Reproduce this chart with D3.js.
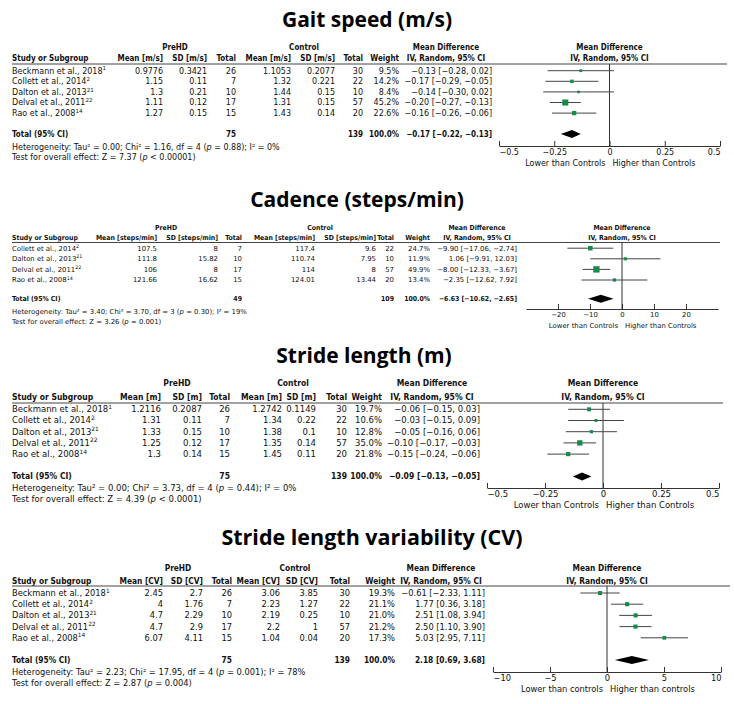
<!DOCTYPE html>
<html>
<head>
<meta charset="utf-8">
<script src="https://cdn.jsdelivr.net/npm/d3@7"></script>
<style>
  body { margin: 0; background: #fff; }
  svg { display: block; }
</style>
</head>
<body>
<div id="chart"></div>
<script>
// study labels + reference superscripts
const studyNames = ['Beckmann et al., 2018', 'Collett et al., 2014', 'Dalton et al., 2013', 'Delval et al., 2011', 'Rao et al., 2008'];
const studyRefs = ['1', '2', '21', '22', '14'];

// Gait speed (m/s)
const gaitPreMean = [0.9776, 1.15, 1.3, 1.11, 1.27];
const gaitPreSD = [0.3421, 0.11, 0.21, 0.12, 0.15];
const gaitPreN = [26, 7, 10, 17, 15];
const gaitCtlMean = [1.1053, 1.32, 1.44, 1.31, 1.43];
const gaitCtlSD = [0.2077, 0.221, 0.15, 0.15, 0.14];
const gaitCtlN = [30, 22, 10, 57, 20];
const gaitWeight = [9.5, 14.2, 8.4, 45.2, 22.6];
const gaitMD = [-0.13, -0.17, -0.14, -0.20, -0.16];
const gaitLo = [-0.28, -0.29, -0.30, -0.27, -0.26];
const gaitHi = [0.02, -0.05, 0.02, -0.13, -0.06];
const gaitTotal = [75, 139, 100.0, -0.17, -0.22, -0.13];   // nPre, nCtl, weight, md, lo, hi
const gaitHet = ['0.00', '1.16', '4', '= 0.88', '0%'];     // tau2, chi2, df, p, I2
const gaitTest = ['7.37', '< 0.00001'];

// Cadence (steps/min) - no Beckmann
const cadPreMean = [107.5, 111.8, 106, 121.66];
const cadPreSD = [8, 15.82, 8, 16.62];
const cadPreN = [7, 10, 17, 15];
const cadCtlMean = [117.4, 110.74, 114, 124.01];
const cadCtlSD = [9.6, 7.95, 8, 13.44];
const cadCtlN = [22, 10, 57, 20];
const cadWeight = [24.7, 11.9, 49.9, 13.4];
const cadMD = [-9.90, 1.06, -8.00, -2.35];
const cadLo = [-17.06, -9.91, -12.33, -12.62];
const cadHi = [-2.74, 12.03, -3.67, 7.92];
const cadTotal = [49, 109, 100.0, -6.63, -10.62, -2.65];
const cadHet = ['3.40', '3.70', '3', '= 0.30', '19%'];
const cadTest = ['3.26', '= 0.001'];

// Stride length (m)
const strPreMean = [1.2116, 1.31, 1.33, 1.25, 1.3];
const strPreSD = [0.2087, 0.11, 0.15, 0.12, 0.14];
const strPreN = [26, 7, 10, 17, 15];
const strCtlMean = [1.2742, 1.34, 1.38, 1.35, 1.45];
const strCtlSD = [0.1149, 0.22, 0.1, 0.14, 0.11];
const strCtlN = [30, 22, 10, 57, 20];
const strWeight = [19.7, 10.6, 12.8, 35.0, 21.8];
const strMD = [-0.06, -0.03, -0.05, -0.10, -0.15];
const strLo = [-0.15, -0.15, -0.16, -0.17, -0.24];
const strHi = [0.03, 0.09, 0.06, -0.03, -0.06];
const strTotal = [75, 139, 100.0, -0.09, -0.13, -0.05];
const strHet = ['0.00', '3.73', '4', '= 0.44', '0%'];
const strTest = ['4.39', '< 0.0001'];

// Stride length variability (CV)
const cvPreMean = [2.45, 4, 4.7, 4.7, 6.07];
const cvPreSD = [2.7, 1.76, 2.29, 2.9, 4.11];
const cvPreN = [26, 7, 10, 17, 15];
const cvCtlMean = [3.06, 2.23, 2.19, 2.2, 1.04];
const cvCtlSD = [3.85, 1.27, 0.25, 1, 0.04];
const cvCtlN = [30, 22, 10, 57, 20];
const cvWeight = [19.3, 21.1, 21.0, 21.2, 17.3];
const cvMD = [-0.61, 1.77, 2.51, 2.50, 5.03];
const cvLo = [-2.33, 0.36, 1.08, 1.10, 2.95];
const cvHi = [1.11, 3.18, 3.94, 3.90, 7.11];
const cvTotal = [75, 139, 100.0, 2.18, 0.69, 3.68];
const cvHet = ['2.23', '17.95', '4', '= 0.001', '78%'];
const cvTest = ['2.87', '= 0.004'];

const width = 734, height = 704;
const regFont = "'DejaVu Sans', Verdana, sans-serif";
const boldFont = "'DejaVu Sans Condensed', 'DejaVu Sans', sans-serif";
const titleFont = "'Open Sans', 'Noto Sans', sans-serif";
const green = '#168a4a';

const svg = d3.select('#chart').append('svg')
  .attr('width', width)
  .attr('height', height);

const fmt2 = d3.format('.2f');
const fmtW = w => w.toFixed(1) + '%';
const ciText = (m, lo, hi) => `${fmt2(m)} [${fmt2(lo)}, ${fmt2(hi)}]`;

// panel setup: data + layout
const panels = [
  {
    title: 'Gait speed (m/s)', unit: 'm/s', idx: [0, 1, 2, 3, 4],
    preMean: gaitPreMean, preSD: gaitPreSD, preN: gaitPreN,
    ctlMean: gaitCtlMean, ctlSD: gaitCtlSD, ctlN: gaitCtlN,
    weight: gaitWeight, md: gaitMD, lo: gaitLo, hi: gaitHi,
    total: gaitTotal, het: gaitHet, test: gaitTest,
    domain: [-0.5, 0.5], ticks: [-0.5, -0.25, 0, 0.25, 0.5],
    lower: 'Lower than Controls', higher: 'Higher than Controls',
    tx: 367, ty: 27, tfs: 21, fs: 8, gy: 47, hy: 58, ly: 64, r0: 70.7, rStep: 10.6,
    totY: 134, hetY: 147, testY: 157.5,
    cols: [163, 207, 236, 291, 335, 363, 399, 492], preX: 175, ctlX: 304, mdHX: 446,
    range: [499, 720], axisY: 146, lineEnd: 727
  },
  {
    title: 'Cadence (steps/min)', unit: 'steps/min', idx: [1, 2, 3, 4],
    preMean: cadPreMean, preSD: cadPreSD, preN: cadPreN,
    ctlMean: cadCtlMean, ctlSD: cadCtlSD, ctlN: cadCtlN,
    weight: cadWeight, md: cadMD, lo: cadLo, hi: cadHi,
    total: cadTotal, het: cadHet, test: cadTest,
    domain: [-30, 30], ticks: [-20, -10, 0, 10, 20],
    lower: 'Lower than Controls', higher: 'Higher than Controls',
    tx: 357, ty: 207, tfs: 21, fs: 6.9, gy: 228, hy: 238, ly: 242.5, r0: 248.2, rStep: 10.6,
    totY: 298.7, hetY: 311.5, testY: 321.5,
    cols: [157, 218, 242, 315, 376, 394, 430, 517], preX: 166, ctlX: 320, mdHX: 477,
    range: [526, 718], axisY: 309, lineEnd: 720
  },
  {
    title: 'Stride length (m)', unit: 'm', idx: [0, 1, 2, 3, 4],
    preMean: strPreMean, preSD: strPreSD, preN: strPreN,
    ctlMean: strCtlMean, ctlSD: strCtlSD, ctlN: strCtlN,
    weight: strWeight, md: strMD, lo: strLo, hi: strHi,
    total: strTotal, het: strHet, test: strTest,
    domain: [-0.5, 0.5], ticks: [-0.5, -0.25, 0, 0.25, 0.5],
    lower: 'Lower than Controls', higher: 'Higher than Controls',
    tx: 364, ty: 363, tfs: 21, fs: 8.5, gy: 383, hy: 397, ly: 403, r0: 409.3, rStep: 11.2,
    totY: 476.5, hetY: 488, testY: 499,
    cols: [161, 202, 230, 282, 316, 347, 382, 480], preX: 177, ctlX: 293, mdHX: 432,
    range: [487, 719], axisY: 488, lineEnd: 723
  },
  {
    title: 'Stride length variability (CV)', unit: 'CV', idx: [0, 1, 2, 3, 4],
    preMean: cvPreMean, preSD: cvPreSD, preN: cvPreN,
    ctlMean: cvCtlMean, ctlSD: cvCtlSD, ctlN: cvCtlN,
    weight: cvWeight, md: cvMD, lo: cvLo, hi: cvHi,
    total: cvTotal, het: cvHet, test: cvTest,
    domain: [-10, 10], ticks: [-10, -5, 0, 5, 10],
    lower: 'Lower than controls', higher: 'Higher than controls',
    tx: 372, ty: 545, tfs: 21.5, fs: 8.3, gy: 568, hy: 581, ly: 586, r0: 593, rStep: 11.2,
    totY: 660, hetY: 672, testY: 683.5,
    cols: [163, 203, 232, 280, 318, 350, 395, 485], preX: 178, ctlX: 295, mdHX: 441,
    range: [493, 721], axisY: 672, lineEnd: 730
  }
];

// square side ~ sqrt(weight)
const boxSize = d3.scaleSqrt().domain([0, 100]).range([0, 9]);

function txt(g, x, y, s, p, opts = {}) {
  return g.append('text')
    .attr('x', x).attr('y', y).attr('dy', '0.35em')
    .attr('text-anchor', opts.anchor || 'end')
    .attr('font-family', opts.bold ? boldFont : regFont)
    .attr('font-weight', opts.bold ? 'bold' : 'normal')
    .attr('font-size', p.fs)
    .attr('fill', '#111')
    .text(s);
}

function drawPanel(p) {
  const g = svg.append('g');
  const c = p.cols;
  const n = p.md.length;

  // title
  g.append('text')
    .attr('x', p.tx).attr('y', p.ty)
    .attr('text-anchor', 'middle')
    .attr('font-family', titleFont)
    .attr('font-weight', 700)
    .attr('font-size', p.tfs)
    .attr('fill', '#000')
    .text(p.title);

  const x = d3.scaleLinear().domain(p.domain).range(p.range);
  const y = d3.scaleLinear().domain([0, n - 1]).range([p.r0, p.r0 + (n - 1) * p.rStep]);
  const x0 = x(0);

  // headers
  const B = { bold: true };
  txt(g, p.preX, p.gy, 'PreHD', p, { bold: true, anchor: 'middle' });
  txt(g, p.ctlX, p.gy, 'Control', p, { bold: true, anchor: 'middle' });
  txt(g, p.mdHX, p.gy, 'Mean Difference', p, { bold: true, anchor: 'middle' });
  txt(g, x0, p.gy, 'Mean Difference', p, { bold: true, anchor: 'middle' });
  txt(g, 12, p.hy, 'Study or Subgroup', p, { bold: true, anchor: 'start' });
  const heads = [`Mean [${p.unit}]`, `SD [${p.unit}]`, 'Total', `Mean [${p.unit}]`, `SD [${p.unit}]`, 'Total', 'Weight'];
  heads.forEach((h, i) => txt(g, c[i], p.hy, h, p, B));
  txt(g, p.mdHX, p.hy, 'IV, Random, 95% CI', p, { bold: true, anchor: 'middle' });
  txt(g, x0, p.hy, 'IV, Random, 95% CI', p, { bold: true, anchor: 'middle' });

  g.append('line')
    .attr('x1', 12).attr('x2', p.lineEnd)
    .attr('y1', p.ly).attr('y2', p.ly)
    .attr('stroke', '#444').attr('stroke-width', 1);

  // study rows
  for (let i = 0; i < n; i++) {
    const yy = y(i);
    const k = p.idx[i];
    const t = txt(g, 12, yy, null, p, { anchor: 'start' });
    t.append('tspan').text(studyNames[k]);
    t.append('tspan').attr('dy', -p.fs * 0.4).attr('font-size', p.fs * 0.7).text(studyRefs[k]);
    const cells = [p.preMean[i], p.preSD[i], p.preN[i], p.ctlMean[i], p.ctlSD[i], p.ctlN[i]];
    cells.forEach((v, j) => txt(g, c[j], yy, String(v), p));
    txt(g, c[6], yy, fmtW(p.weight[i]), p);
    txt(g, c[7], yy, ciText(p.md[i], p.lo[i], p.hi[i]), p);
  }

  // total row
  const T = p.total;
  txt(g, 12, p.totY, 'Total (95% CI)', p, { bold: true, anchor: 'start' });
  txt(g, c[2], p.totY, String(T[0]), p, B);
  txt(g, c[5], p.totY, String(T[1]), p, B);
  txt(g, c[6], p.totY, fmtW(T[2]), p, B);
  txt(g, c[7], p.totY, ciText(T[3], T[4], T[5]), p, B);

  // heterogeneity + overall effect
  const h = p.het;
  const het = txt(g, 12, p.hetY, null, p, { anchor: 'start' });
  het.append('tspan').text(`Heterogeneity: Tau² = ${h[0]}; Chi² = ${h[1]}, df = ${h[2]} (`);
  het.append('tspan').attr('font-style', 'italic').text('p');
  het.append('tspan').text(` ${h[3]}); I² = ${h[4]}`);
  const tst = txt(g, 12, p.testY, null, p, { anchor: 'start' });
  tst.append('tspan').text(`Test for overall effect: Z = ${p.test[0]} (`);
  tst.append('tspan').attr('font-style', 'italic').text('p');
  tst.append('tspan').text(` ${p.test[1]})`);

  // zero line
  g.append('line')
    .attr('x1', x0).attr('x2', x0)
    .attr('y1', p.ly).attr('y2', p.axisY)
    .attr('stroke', '#333').attr('stroke-width', 1);

  // CIs and boxes
  const rows = d3.range(n);
  g.selectAll('.ci').data(rows).join('line')
    .attr('x1', i => x(p.lo[i])).attr('x2', i => x(p.hi[i]))
    .attr('y1', i => y(i)).attr('y2', i => y(i))
    .attr('stroke', '#444').attr('stroke-width', 1);
  g.selectAll('.box').data(rows).join('rect')
    .attr('x', i => x(p.md[i]) - boxSize(p.weight[i]) / 2)
    .attr('y', i => y(i) - boxSize(p.weight[i]) / 2)
    .attr('width', i => boxSize(p.weight[i]))
    .attr('height', i => boxSize(p.weight[i]))
    .attr('fill', green);

  // pooled diamond
  const dy = 4;
  g.append('path')
    .attr('d', `M${x(T[4])},${p.totY} L${x(T[3])},${p.totY - dy} L${x(T[5])},${p.totY} L${x(T[3])},${p.totY + dy} Z`)
    .attr('fill', '#000');

  // axis, ticks point up
  const axis = d3.axisBottom(x)
    .tickValues(p.ticks)
    .tickSizeInner(-5)
    .tickSizeOuter(0)
    .tickPadding(3)
    .tickFormat(d3.format('~g'));
  const ag = g.append('g')
    .attr('transform', `translate(0,${p.axisY})`)
    .call(axis);
  ag.select('.domain').attr('stroke', '#333');
  ag.selectAll('.tick line').attr('stroke', '#333');
  ag.selectAll('.tick text')
    .attr('font-family', regFont)
    .attr('font-size', p.fs)
    .attr('fill', '#111')
    .attr('text-anchor', d => d === p.domain[0] ? 'start' : d === p.domain[1] ? 'end' : 'middle');

  const ly = p.axisY + 17;
  txt(g, x0 - 4, ly, p.lower, p, { anchor: 'end' });
  txt(g, x0 + 3, ly, p.higher, p, { anchor: 'start' });
}

panels.forEach(drawPanel);
</script>
</body>
</html>
